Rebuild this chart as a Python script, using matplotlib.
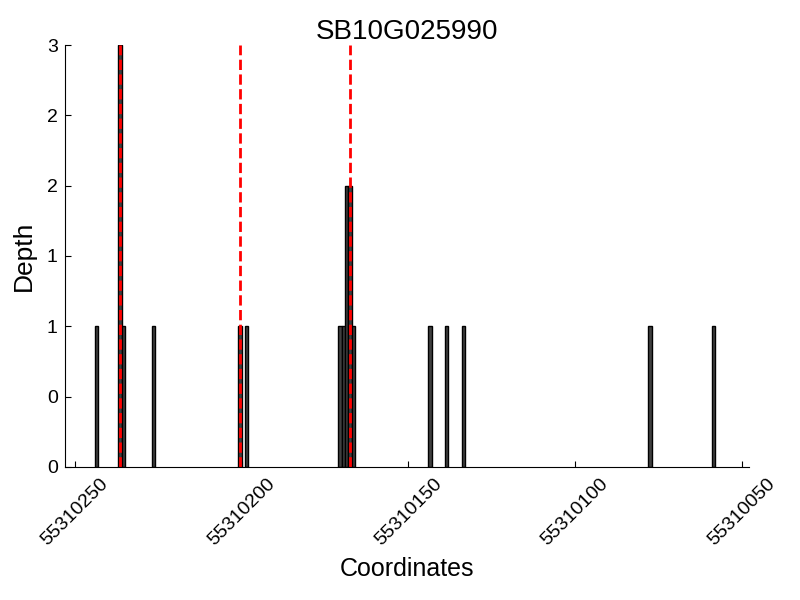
import matplotlib
matplotlib.use("Agg")
import matplotlib.pyplot as plt
from matplotlib.ticker import FormatStrFormatter

plt.rcParams['font.family'] = ['Liberation Sans', 'DejaVu Sans']

# bin left edges (genomic coordinate) and read depth
posiciones = [55310243, 55310236, 55310235, 55310226, 55310200, 55310198,
              55310170, 55310169, 55310168, 55310167, 55310166,
              55310143, 55310138, 55310133, 55310077, 55310058]
profundidad = [1, 3, 1, 1, 1, 1,
               1, 1, 2, 2, 1,
               1, 1, 1, 1, 1]

# marked sites (red dashed lines)
sitios = [55310236.5, 55310200.5, 55310167.5]

titulo = 'SB10G025990'
x_ticks = [55310250, 55310200, 55310150, 55310100, 55310050]
y_ticks = [0, 0.5, 1, 1.5, 2, 2.5, 3]

fig = plt.figure(figsize=(8, 6), dpi=100)
ax = fig.add_axes([0.081, 0.222, 0.855, 0.703])

ax.bar(posiciones, profundidad, width=1, align='edge',
       color='#404040', edgecolor='black', linewidth=1)
for s in sitios:
    ax.plot([s, s], [0, 3], color='red', linestyle='--', linewidth=2)

ax.set_xlim(55310253.1, 55310047.9)
ax.set_ylim(0, 3)
ax.set_xticks(x_ticks)
ax.set_yticks(y_ticks)
ax.yaxis.set_major_formatter(FormatStrFormatter('%d'))
ax.xaxis.set_major_formatter(FormatStrFormatter('%d'))
ax.tick_params(direction='in', length=4, labelsize=14)
ax.tick_params(axis='y', pad=5)
ax.tick_params(axis='x', pad=6)
for lbl in ax.get_xticklabels():
    lbl.set_rotation(45)
    lbl.set_ha('center')

ax.spines['top'].set_visible(False)
ax.spines['right'].set_visible(False)

ax.set_title(titulo, fontsize=20, pad=2)
ax.set_xlabel('Coordinates', fontsize=18, labelpad=6)
ax.set_ylabel('Depth', fontsize=19, labelpad=8)

plt.savefig('out.png', dpi=100)
